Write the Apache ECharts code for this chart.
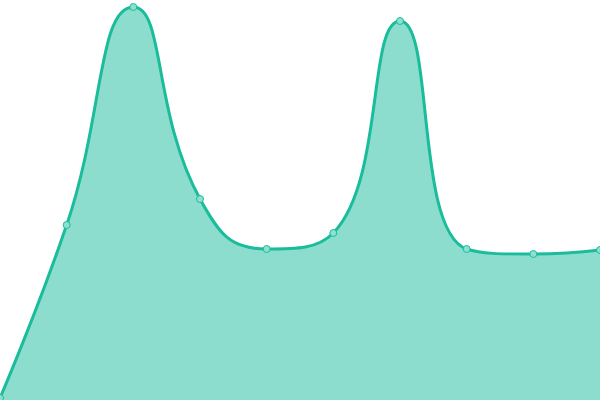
<!DOCTYPE html>
<html>
<head>
<meta charset="utf-8">
<script src="https://cdn.jsdelivr.net/npm/echarts@6/dist/echarts.min.js"></script>
<style>
  html, body { margin: 0; padding: 0; background: #fff; }
  #main { width: 600px; height: 400px; }
</style>
</head>
<body>
<div id="main"></div>
<script>
var categories = ['1', '2', '3', '4', '5', '6', '7', '8', '9', '10'];
var values = [2, 175, 393, 201, 151, 167, 379, 151, 146, 150];

var lineColor = '#1abc9c';
var pointFill = '#8de0cf';

var chart = echarts.init(document.getElementById('main'));
chart.setOption({
  animation: false,
  grid: { left: 0, right: 0, top: 0, bottom: 0 },
  xAxis: {
    type: 'category',
    data: categories,
    boundaryGap: false,
    show: false
  },
  yAxis: {
    type: 'value',
    min: 0,
    max: 400,
    show: false
  },
  series: [
    {
      type: 'line',
      data: values,
      smooth: true,
      symbol: 'circle',
      symbolSize: 7,
      lineStyle: { color: lineColor, width: 3 },
      itemStyle: { color: pointFill, borderColor: lineColor, borderWidth: 1 },
      areaStyle: { color: lineColor, opacity: 0.5 }
    }
  ]
});
</script>
</body>
</html>
